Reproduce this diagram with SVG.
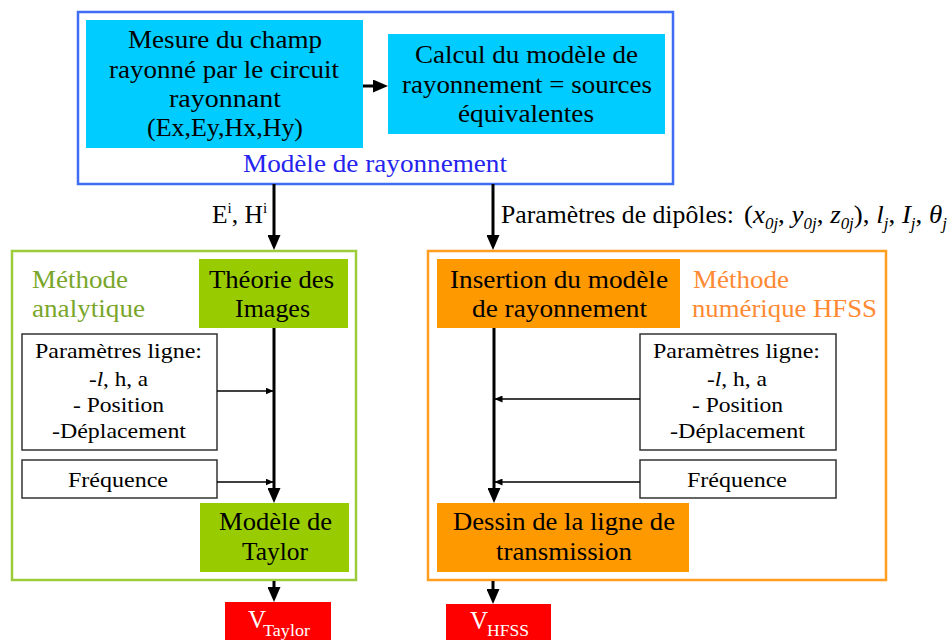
<svg xmlns="http://www.w3.org/2000/svg" width="949" height="640" viewBox="0 0 949 640">
<defs>
<marker id="big" markerUnits="userSpaceOnUse" markerWidth="15" markerHeight="13" refX="5" refY="6.5" orient="auto">
<path d="M0,0 L15,6.5 L0,13 Z" fill="#000"/>
</marker>
<marker id="small" markerUnits="userSpaceOnUse" markerWidth="8" markerHeight="7" refX="7.5" refY="3.5" orient="auto">
<path d="M0,0 L8,3.5 L0,7 Z" fill="#000"/>
</marker>
</defs>
<style>
text{font-family:"Liberation Serif","Times New Roman",serif;fill:#000}
.m{font-size:25.5px}
.s{font-size:22px}
.blue{fill:#2424ee}
.grn{fill:#79a62a}
.org{fill:#ff8a33}
.wht{fill:#fff}
.thick{stroke:#000;stroke-width:3;fill:none}
.thin{stroke:#000;stroke-width:1.3;fill:none}
.plain{fill:#fff;stroke:#333;stroke-width:1.5}
</style>
<rect width="949" height="640" fill="#fff"/>

<g id="modele-rayonnement">
<rect x="78" y="12" width="595" height="172" fill="#fff" stroke="#3f6ef5" stroke-width="2.5"/>
<text class="m blue" x="243" y="172" textLength="264" lengthAdjust="spacingAndGlyphs">Modèle de rayonnement</text>
</g>
<g id="mesure">
<rect x="86" y="20" width="277" height="128" fill="#00ccff"/>
<text class="m" x="128" y="48" textLength="194" lengthAdjust="spacingAndGlyphs">Mesure du champ</text>
<text class="m" x="109" y="78" textLength="230" lengthAdjust="spacingAndGlyphs">rayonné par le circuit</text>
<text class="m" x="169" y="107" textLength="112" lengthAdjust="spacingAndGlyphs">rayonnant</text>
<text class="m" x="147" y="136" textLength="156" lengthAdjust="spacingAndGlyphs">(Ex,Ey,Hx,Hy)</text>
</g>
<g id="calcul">
<rect x="388" y="34" width="277" height="100" fill="#00ccff"/>
<text class="m" x="415" y="63" textLength="223" lengthAdjust="spacingAndGlyphs">Calcul du modèle de</text>
<text class="m" x="402" y="93" textLength="250" lengthAdjust="spacingAndGlyphs">rayonnement = sources</text>
<text class="m" x="458" y="122" textLength="136" lengthAdjust="spacingAndGlyphs">équivalentes</text>
</g>

<g id="methode-analytique">
<rect x="12" y="251" width="344" height="329" fill="#fff" stroke="#9ccc3a" stroke-width="2.5"/>
<text class="m grn" x="32" y="288" textLength="96" lengthAdjust="spacingAndGlyphs">Méthode</text>
<text class="m grn" x="32" y="317" textLength="113" lengthAdjust="spacingAndGlyphs">analytique</text>
</g>
<g id="theorie-images">
<rect x="199" y="259" width="149" height="69" fill="#99cc00"/>
<text class="m" x="209" y="288" textLength="125" lengthAdjust="spacingAndGlyphs">Théorie des</text>
<text class="m" x="235" y="317" textLength="75" lengthAdjust="spacingAndGlyphs">Images</text>
</g>
<g id="params-gauche">
<rect class="plain" x="22" y="334" width="195" height="116"/>
<text class="s" x="35" y="358" textLength="167" lengthAdjust="spacingAndGlyphs">Paramètres ligne:</text>
<text class="s" x="89" y="386" textLength="59" lengthAdjust="spacingAndGlyphs">-<tspan font-style="italic">l</tspan>, h, a</text>
<text class="s" x="73" y="412" textLength="91" lengthAdjust="spacingAndGlyphs">- Position</text>
<text class="s" x="52" y="438" textLength="134" lengthAdjust="spacingAndGlyphs">-Déplacement</text>
</g>
<g id="freq-gauche">
<rect class="plain" x="22" y="460" width="195" height="38"/>
<text class="s" x="68" y="487" textLength="100" lengthAdjust="spacingAndGlyphs">Fréquence</text>
</g>
<g id="modele-taylor">
<rect x="200" y="503" width="149" height="69" fill="#99cc00"/>
<text class="m" x="219" y="530" textLength="113" lengthAdjust="spacingAndGlyphs">Modèle de</text>
<text class="m" x="242" y="560" textLength="66" lengthAdjust="spacingAndGlyphs">Taylor</text>
</g>

<g id="methode-numerique">
<rect x="428" y="251" width="458" height="329" fill="#fff" stroke="#ff9d1f" stroke-width="2.5"/>
<text class="m org" x="693" y="288" textLength="96" lengthAdjust="spacingAndGlyphs">Méthode</text>
<text class="m org" x="692" y="317" textLength="185" lengthAdjust="spacingAndGlyphs">numérique HFSS</text>
</g>
<g id="insertion">
<rect x="437" y="259" width="243" height="69" fill="#ff9900"/>
<text class="m" x="450" y="288" textLength="218" lengthAdjust="spacingAndGlyphs">Insertion du modèle</text>
<text class="m" x="472" y="317" textLength="175" lengthAdjust="spacingAndGlyphs">de rayonnement</text>
</g>
<g id="params-droite">
<rect class="plain" x="640" y="334" width="196" height="116"/>
<text class="s" x="653" y="358" textLength="167" lengthAdjust="spacingAndGlyphs">Paramètres ligne:</text>
<text class="s" x="707" y="386" textLength="60" lengthAdjust="spacingAndGlyphs">-<tspan font-style="italic">l</tspan>, h, a</text>
<text class="s" x="692" y="412" textLength="91" lengthAdjust="spacingAndGlyphs">- Position</text>
<text class="s" x="670" y="438" textLength="135" lengthAdjust="spacingAndGlyphs">-Déplacement</text>
</g>
<g id="freq-droite">
<rect class="plain" x="640" y="460" width="196" height="38"/>
<text class="s" x="687" y="487" textLength="100" lengthAdjust="spacingAndGlyphs">Fréquence</text>
</g>
<g id="dessin">
<rect x="437" y="503" width="252" height="69" fill="#ff9900"/>
<text class="m" x="453" y="530" textLength="222" lengthAdjust="spacingAndGlyphs">Dessin de la ligne de</text>
<text class="m" x="496" y="560" textLength="136" lengthAdjust="spacingAndGlyphs">transmission</text>
</g>

<g id="v-taylor">
<rect x="225" y="602" width="106" height="38" fill="#ff0000"/>
<text class="wht" x="248" y="628" font-size="25">V</text>
<text class="wht" x="263" y="636" font-size="17" textLength="47" lengthAdjust="spacingAndGlyphs">Taylor</text>
</g>
<g id="v-hfss">
<rect x="446" y="604" width="105" height="36" fill="#ff0000"/>
<text class="wht" x="470" y="629" font-size="25">V</text>
<text class="wht" x="487" y="636" font-size="16" textLength="42" lengthAdjust="spacingAndGlyphs">HFSS</text>
</g>

<g id="connecteurs">
<path class="thick" d="M363,86 H378" marker-end="url(#big)"/>
<path class="thick" d="M274,184 V240" marker-end="url(#big)"/>
<path class="thick" d="M493,184 V240" marker-end="url(#big)"/>
<path class="thick" d="M274,328 V493" marker-end="url(#big)"/>
<path class="thick" d="M494,328 V493" marker-end="url(#big)"/>
<path class="thick" d="M274,581 V592" marker-end="url(#big)"/>
<path class="thick" d="M493,581 V594" marker-end="url(#big)"/>
<path class="thin" d="M217,391 H273" marker-end="url(#small)"/>
<path class="thin" d="M217,482 H273" marker-end="url(#small)"/>
<path class="thin" d="M640,399 H495" marker-end="url(#small)"/>
<path class="thin" d="M640,482 H495" marker-end="url(#small)"/>
<text class="m" x="212" y="223">E<tspan font-size="15" dy="-10">i</tspan><tspan dy="10">, H</tspan><tspan font-size="15" dy="-10">i</tspan></text>
<text class="m" x="501" y="223" textLength="233" lengthAdjust="spacingAndGlyphs">Paramètres de dipôles:</text>
<text class="m" x="744" y="223" textLength="203" lengthAdjust="spacingAndGlyphs">(<tspan font-style="italic">x</tspan><tspan font-size="16" font-style="italic" dy="6">0j</tspan><tspan dy="-6">, </tspan><tspan font-style="italic">y</tspan><tspan font-size="16" font-style="italic" dy="6">0j</tspan><tspan dy="-6">, </tspan><tspan font-style="italic">z</tspan><tspan font-size="16" font-style="italic" dy="6">0j</tspan><tspan dy="-6">), </tspan><tspan font-style="italic">l</tspan><tspan font-size="16" font-style="italic" dy="6">j</tspan><tspan dy="-6">, </tspan><tspan font-style="italic">I</tspan><tspan font-size="16" font-style="italic" dy="6">j</tspan><tspan dy="-6">, </tspan><tspan font-style="italic">θ</tspan><tspan font-size="16" font-style="italic" dy="6">j</tspan></text>
</g>
</svg>
